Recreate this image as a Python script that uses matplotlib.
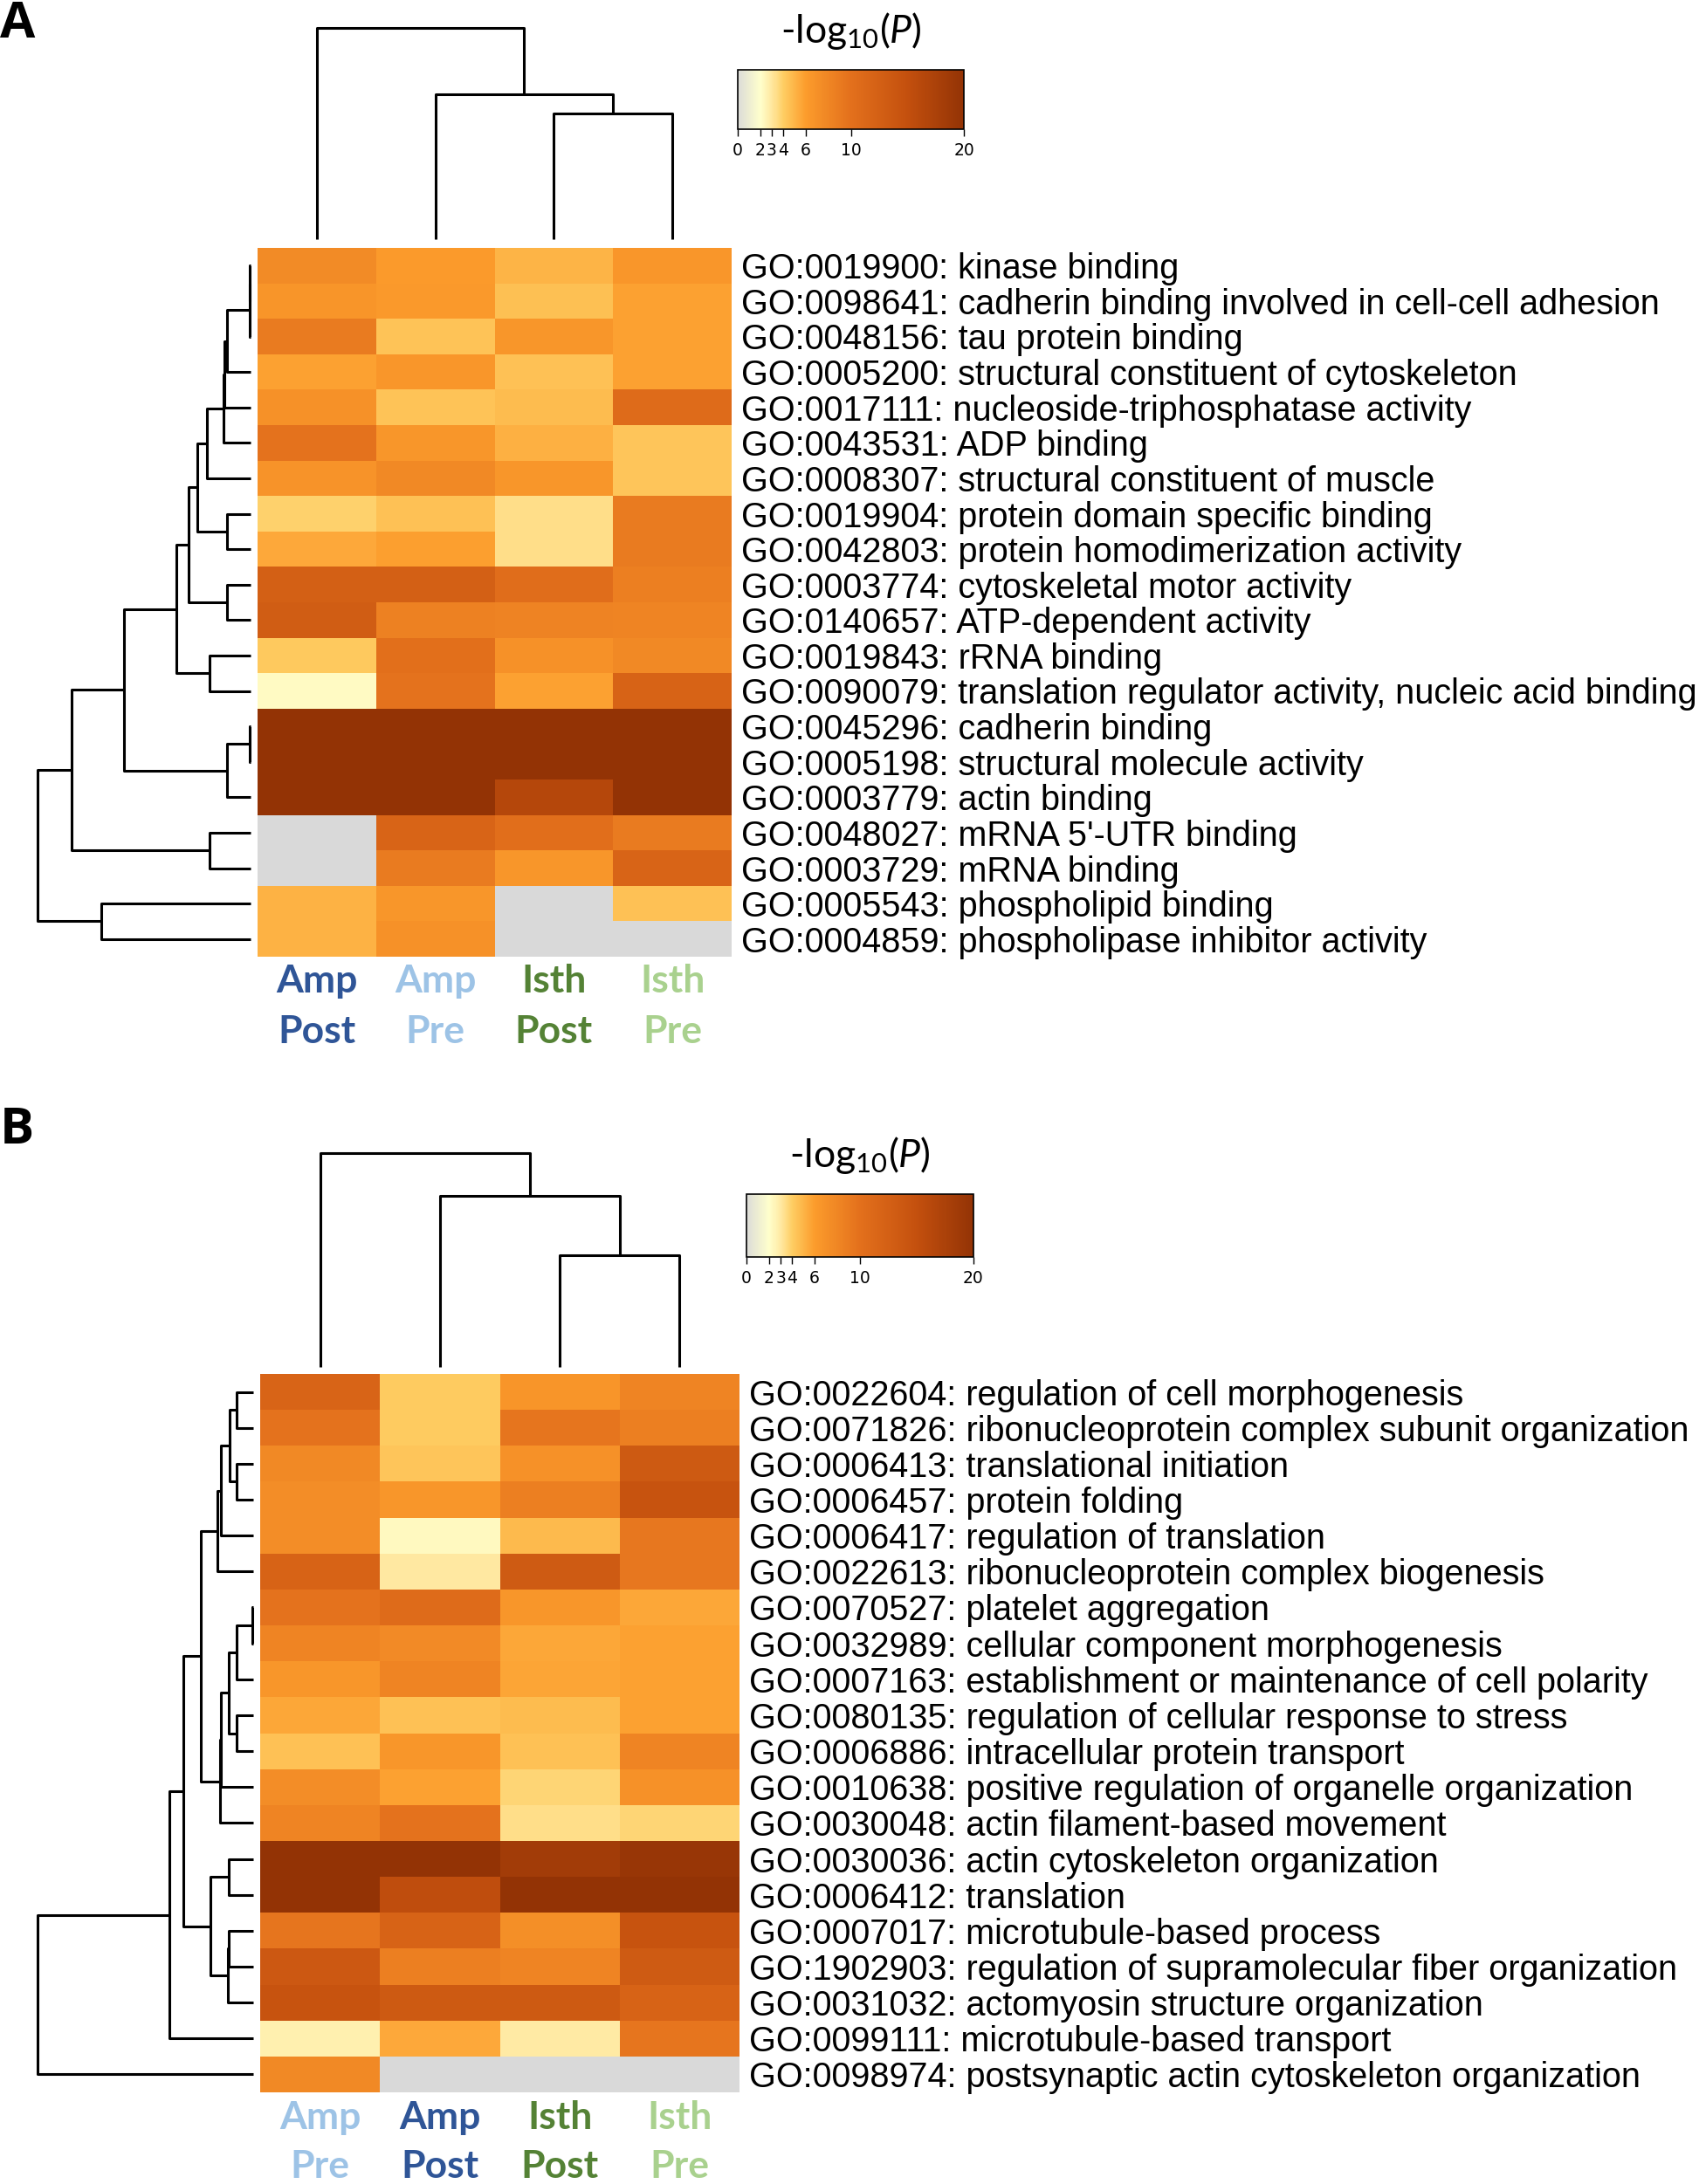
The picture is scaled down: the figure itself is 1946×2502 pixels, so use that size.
import numpy as np
import matplotlib.pyplot as plt
from matplotlib.colors import LinearSegmentedColormap, Normalize
from matplotlib.cm import ScalarMappable

W, H = 1946, 2502
plt.rcParams['mathtext.fontset'] = 'custom'
plt.rcParams['mathtext.rm'] = 'Lato'
plt.rcParams['mathtext.it'] = 'Lato:italic'

nan = np.nan

# ---------------- panel A data ----------------
terms_a = [
    'GO:0019900: kinase binding',
    'GO:0098641: cadherin binding involved in cell-cell adhesion',
    'GO:0048156: tau protein binding',
    'GO:0005200: structural constituent of cytoskeleton',
    'GO:0017111: nucleoside-triphosphatase activity',
    'GO:0043531: ADP binding',
    'GO:0008307: structural constituent of muscle',
    'GO:0019904: protein domain specific binding',
    'GO:0042803: protein homodimerization activity',
    'GO:0003774: cytoskeletal motor activity',
    'GO:0140657: ATP-dependent activity',
    'GO:0019843: rRNA binding',
    'GO:0090079: translation regulator activity, nucleic acid binding',
    'GO:0045296: cadherin binding',
    'GO:0005198: structural molecule activity',
    'GO:0003779: actin binding',
    "GO:0048027: mRNA 5'-UTR binding",
    'GO:0003729: mRNA binding',
    'GO:0005543: phospholipid binding',
    'GO:0004859: phospholipase inhibitor activity',
]
cols_a = ['Amp\nPost', 'Amp\nPre', 'Isth\nPost', 'Isth\nPre']
col_colors_a = ['#2f5597', '#9dc3e6', '#548235', '#a9d18e']
vals_a = [
    [7.5, 6.2, 5.0, 6.5],
    [6.7, 6.3, 4.6, 5.8],
    [9.0, 4.4, 6.6, 5.8],
    [5.8, 6.5, 4.5, 5.8],
    [7.0, 4.4, 4.7, 10.8],
    [9.8, 6.6, 5.2, 4.3],
    [6.8, 7.8, 6.6, 4.3],
    [3.9, 4.5, 3.4, 9.0],
    [5.5, 5.9, 3.4, 9.0],
    [12.5, 12.5, 10.4, 8.6],
    [13.0, 8.5, 8.3, 8.2],
    [4.2, 10.2, 7.0, 7.7],
    [2.2, 9.8, 5.8, 12.0],
    [20, 20, 20, 20],
    [20, 20, 20, 20],
    [20, 20, 16.5, 20],
    [nan, 11.8, 10.3, 9.0],
    [nan, 9.0, 6.6, 11.8],
    [5.1, 6.6, nan, 4.5],
    [5.1, 7.0, nan, nan],
]
# trees: (left, right, height), leaves are row / column indices
rows_tree_a = ((((((((((((0, 1, 1), 2, 2), 3, 50), 4, 55), 5, 57), 6, 92), (7, 8, 50), 112),
                 (9, 10, 50), 130), (11, 12, 87), 155),
               (((13, 14, 1), 15, 50)), 265), (16, 17, 87), 375), (18, 19, 313), 447)
cols_tree_a = (0, (1, (2, 3, 0.596), 0.686), 1.0)

# ---------------- panel B data ----------------
terms_b = [
    'GO:0022604: regulation of cell morphogenesis',
    'GO:0071826: ribonucleoprotein complex subunit organization',
    'GO:0006413: translational initiation',
    'GO:0006457: protein folding',
    'GO:0006417: regulation of translation',
    'GO:0022613: ribonucleoprotein complex biogenesis',
    'GO:0070527: platelet aggregation',
    'GO:0032989: cellular component morphogenesis',
    'GO:0007163: establishment or maintenance of cell polarity',
    'GO:0080135: regulation of cellular response to stress',
    'GO:0006886: intracellular protein transport',
    'GO:0010638: positive regulation of organelle organization',
    'GO:0030048: actin filament-based movement',
    'GO:0030036: actin cytoskeleton organization',
    'GO:0006412: translation',
    'GO:0007017: microtubule-based process',
    'GO:1902903: regulation of supramolecular fiber organization',
    'GO:0031032: actomyosin structure organization',
    'GO:0099111: microtubule-based transport',
    'GO:0098974: postsynaptic actin cytoskeleton organization',
]
cols_b = ['Amp\nPre', 'Amp\nPost', 'Isth\nPost', 'Isth\nPre']
col_colors_b = ['#9dc3e6', '#2f5597', '#548235', '#a9d18e']
vals_b = [
    [11.8, 4.1, 6.7, 8.2],
    [9.8, 4.1, 9.6, 8.6],
    [7.8, 4.3, 7.0, 13.5],
    [7.4, 6.6, 8.6, 14.5],
    [7.4, 2.3, 4.8, 9.3],
    [12.0, 3.0, 13.3, 9.3],
    [9.8, 10.8, 6.6, 5.6],
    [8.2, 7.6, 5.6, 5.8],
    [6.6, 8.2, 5.7, 5.8],
    [5.6, 4.5, 4.7, 5.8],
    [4.5, 6.6, 4.5, 8.2],
    [7.4, 5.8, 3.7, 7.0],
    [8.2, 9.8, 3.4, 3.7],
    [20, 20, 18.5, 19.5],
    [20, 15.5, 20, 20],
    [9.6, 12.0, 7.2, 14.5],
    [13.7, 8.6, 8.2, 13.3],
    [14.5, 13.5, 13.5, 12.0],
    [2.7, 5.5, 2.9, 9.6],
    [7.8, nan, nan, nan],
]
rows_tree_b = ((((((((0, 1, 35), (2, 3, 35), 50), 4, 68), 5, 75),
                 (((((6, 7, 2), 8, 35), (9, 10, 35), 52), 11, 68), 12, 70), 110),
                ((13, 14, 52), ((15, 16, 52), 17, 53), 90), 147), 18, 175), 19, 452)
cols_tree_b = (0, (1, (2, 3, 0.523), 0.802), 1.0)

cbar_ticks = [0, 2, 3, 4, 6, 10, 20]

cmap = LinearSegmentedColormap.from_list('mscape', [
    (0.0, '#dcdcd8'), (0.1, '#ffffcc'), (0.15, '#ffe8a0'), (0.2, '#fecd62'),
    (0.3, '#fc9c2c'), (0.5, '#e3701c'), (0.75, '#c4500e'), (1.0, '#933305')])
cmap.set_bad('#d9d9d9')
norm = Normalize(0, 20)


def box(x0, y0, x1, y1):
    return [x0 / W, 1 - y1 / H, (x1 - x0) / W, (y1 - y0) / H]


def draw_tree(ax, node, side):
    if isinstance(node, int):
        return node + 0.5, 0.0
    left, right, h = node
    pl, hl = draw_tree(ax, left, side)
    pr, hr = draw_tree(ax, right, side)
    pos = [pl, pl, pr, pr]
    hts = [hl, h, h, hr]
    if side == 'top':
        ax.plot(pos, hts, color='black', lw=2.2, clip_on=False, solid_capstyle='butt')
    else:
        ax.plot(hts, pos, color='black', lw=2.2, clip_on=False, solid_capstyle='butt')
    return (pl + pr) / 2, h


def panel(fig, terms, cols, col_colors, vals, rtree, ctree, heat, cden, rden, cbar, title_y,
          lab_y, letter, letter_y):
    data = np.ma.masked_invalid(np.array(vals, dtype=float))
    nr, nc = data.shape

    ax = fig.add_axes(box(*heat))
    ax.pcolormesh(np.arange(nc + 1), np.arange(nr + 1), data, cmap=cmap, norm=norm)
    ax.set_xlim(0, nc)
    ax.set_ylim(nr, 0)
    for s in ax.spines.values():
        s.set_visible(False)
    ax.yaxis.tick_right()
    ax.set_yticks(np.arange(nr) + 0.5)
    ax.set_yticklabels(terms, fontsize=28.5, family='Liberation Sans')
    ax.tick_params(axis='y', length=0, pad=8)
    ax.set_xticks([])
    for j, (c, col) in enumerate(zip(cols, col_colors)):
        top, bottom = c.split('\n')
        ax.text(j + 0.5, lab_y[0], top, transform=ax.get_xaxis_transform(), ha='center',
                va='center', fontsize=32, fontweight='bold', family='Lato', color=col)
        ax.text(j + 0.5, lab_y[1], bottom, transform=ax.get_xaxis_transform(), ha='center',
                va='center', fontsize=32, fontweight='bold', family='Lato', color=col)

    axc = fig.add_axes(box(*cden))
    draw_tree(axc, ctree, 'top')
    axc.set_xlim(0, nc)
    axc.set_ylim(0, ctree[2])
    axc.axis('off')

    axr = fig.add_axes(box(*rden))
    draw_tree(axr, rtree, 'left')
    axr.set_ylim(nr, 0)
    axr.set_xlim(rtree[2], 0)
    axr.axis('off')

    cax = fig.add_axes(box(*cbar))
    cb = fig.colorbar(ScalarMappable(norm=norm, cmap=cmap), cax=cax, orientation='horizontal',
                      ticks=cbar_ticks)
    cb.outline.set_linewidth(1.2)
    cax.tick_params(labelsize=13.5, length=6, width=1, pad=5)
    cax.text(0.5, title_y, r'-log$_{10}$($\mathit{P}$)', transform=cax.transAxes, ha='center',
             va='center', fontsize=32, family='Lato')

    fig.text(0, 1 - letter_y / H, letter, fontsize=42, fontweight='bold', family='Open Sans',
             ha='left', va='baseline')


fig = plt.figure(figsize=(W / 100, H / 100), dpi=100)
panel(fig, terms_a, cols_a, col_colors_a, vals_a, rows_tree_a, cols_tree_a,
      heat=(295, 284, 838, 1096), cden=(295, 32, 838, 274), rden=(43, 284, 287, 1096),
      cbar=(845, 80, 1104, 148), title_y=1.66, lab_y=(-0.035, -0.106), letter='A', letter_y=43)
panel(fig, terms_b, cols_b, col_colors_b, vals_b, rows_tree_b, cols_tree_b,
      heat=(298, 1574, 847, 2397), cden=(298, 1321, 847, 1566), rden=(43, 1574, 290, 2397),
      cbar=(855, 1368, 1115, 1440), title_y=1.62, lab_y=(-0.035, -0.103), letter='B',
      letter_y=1310)
fig.savefig('out.png', dpi=100)
